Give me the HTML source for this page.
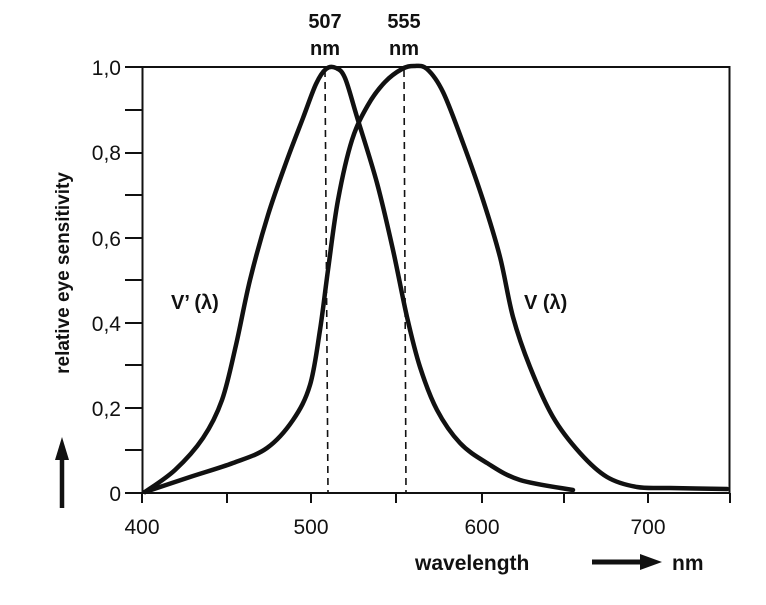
<!DOCTYPE html>
<html><head><meta charset="utf-8"><style>
body{margin:0;background:#fff;width:766px;height:605px;overflow:hidden}
svg{display:block}
text{font-family:"Liberation Sans",sans-serif;fill:#111}
.b{font-weight:bold}
</style></head><body>
<svg id="s" width="766" height="605" viewBox="0 0 766 605">
<rect x="142.5" y="67" width="587" height="426" fill="none" stroke="#111" stroke-width="2"/>
<g stroke="#111" stroke-width="2" id="ticks"></g>
<g font-size="21" text-anchor="end">
<text x="121" y="75">1,0</text><text x="121" y="160">0,8</text><text x="121" y="246">0,6</text>
<text x="121" y="331">0,4</text><text x="121" y="416">0,2</text><text x="121" y="501">0</text>
</g>
<g font-size="21" text-anchor="middle">
<text x="142" y="534">400</text><text x="311" y="534">500</text><text x="482" y="534">600</text><text x="648" y="534">700</text>
</g>
<g stroke="#111" stroke-width="1.6" stroke-dasharray="7,5">
<line x1="325" y1="70" x2="328" y2="493"/><line x1="404" y1="70" x2="406" y2="493"/>
</g>
<path id="p1" fill="none" stroke="#111" stroke-width="4.5" stroke-linejoin="round" stroke-linecap="round"/>
<path id="p2" fill="none" stroke="#111" stroke-width="4.5" stroke-linejoin="round" stroke-linecap="round"/>
<g font-size="20" text-anchor="middle">
<text x="325" y="28" class="b">507</text><text x="325" y="55" class="b">nm</text>
<text x="404" y="28" class="b">555</text><text x="404" y="55" class="b">nm</text>
</g>
<text x="171" y="309" font-size="20" class="b">V’ (λ)</text>
<text x="524" y="309" font-size="20" class="b">V (λ)</text>
<text transform="translate(69,273) rotate(-90)" text-anchor="middle" font-size="19" class="b">relative eye sensitivity</text>
<line x1="62" y1="508" x2="62" y2="455" stroke="#111" stroke-width="4.5"/>
<polygon points="55,460 69,460 62,437" fill="#111"/>
<text x="415" y="570" font-size="21" class="b">wavelength</text>
<line x1="592" y1="562" x2="645" y2="562" stroke="#111" stroke-width="5"/>
<polygon points="640,554 662,562 640,570" fill="#111"/>
<text x="672" y="570" font-size="21" class="b">nm</text>
</svg>
<script>
var t=document.getElementById('ticks'),h='';
[67,110,153,195,238,280,323,365,408,450,493].forEach(function(y){h+='<line x1="125" y1="'+y+'" x2="142" y2="'+y+'"/>';});
[142,227,311,396,482,564,648,730].forEach(function(x){h+='<line x1="'+x+'" y1="493" x2="'+x+'" y2="503"/>';});
t.innerHTML=h;
function path(pts){
 var d='M'+pts[0][0]+','+pts[0][1];
 for(var i=0;i<pts.length-1;i++){
  var p0=pts[Math.max(i-1,0)],p1=pts[i],p2=pts[i+1],p3=pts[Math.min(i+2,pts.length-1)];
  d+=' C'+(p1[0]+(p2[0]-p0[0])/6)+','+(p1[1]+(p2[1]-p0[1])/6)+' '+(p2[0]-(p3[0]-p1[0])/6)+','+(p2[1]-(p3[1]-p1[1])/6)+' '+p2[0]+','+p2[1];
 }
 return d;}
document.getElementById('p1').setAttribute('d',path([[145,492],[175,470],[203,438],[222,400],[236,345],[250,280],[268,215],[287,160],[303,118],[316,84],[326,69],[336,68],[345,78],[357,117],[377,183],[393,250],[407,317],[420,367],[437,410],[460,443],[487,463],[520,480],[573,490]]));
document.getElementById('p2').setAttribute('d',path([[145,492],[190,477],[233,463],[267,448],[293,420],[310,385],[320,330],[328,270],[338,200],[352,140],[368,105],[385,82],[402,69],[414,66],[427,69],[443,92],[463,143],[483,200],[500,257],[513,317],[530,367],[553,417],[580,453],[607,477],[637,487],[670,488],[727,489]]));
</script>
</body></html>
